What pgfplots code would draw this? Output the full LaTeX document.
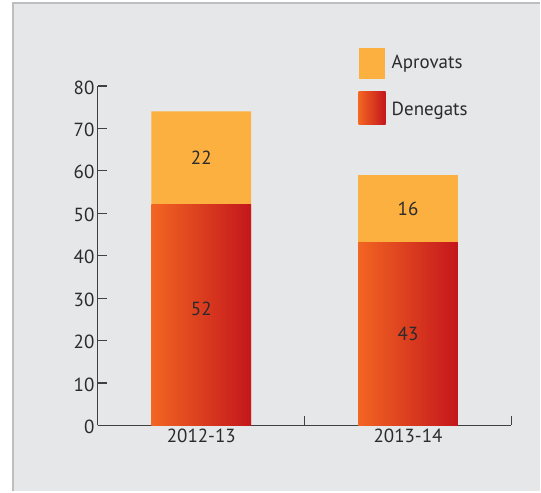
\documentclass[border=0pt]{standalone}
\usepackage{pgfplots}
\pgfplotsset{compat=1.18}
\usepackage{fontspec}
\setmainfont{PT Sans}
\definecolor{bg}{HTML}{E6E7E9}
\definecolor{frame}{HTML}{BCBEC0}
\definecolor{apro}{HTML}{FBB040}
\definecolor{denL}{HTML}{F26522}
\definecolor{denR}{HTML}{C4161C}
\definecolor{txt}{HTML}{2B2A2C}
\definecolor{axisc}{HTML}{414042}
\newcommand{\lbl}{\fontsize{19}{21}\selectfont}
\begin{document}
\begin{tikzpicture}
\path (0pt,0pt) rectangle (541pt,492pt);
\fill[bg] (13pt,0pt) rectangle (541pt,489pt);
\draw[frame, line width=1.3pt] (13pt,0pt) -- (13pt,489pt) -- (541pt,489pt);
\begin{axis}[
  at={(98pt,66pt)}, anchor=south west,
  scale only axis, width=414pt, height=340pt,
  xmin=0, xmax=2, ymin=0, ymax=80,
  axis x line=bottom, axis y line=left,
  axis line style={-, axisc, line width=1.2pt},
  xtick={0,1,2}, xticklabels={,,},
  extra x ticks={0.5,1.5},
  extra x tick labels={2012-13,2013-14},
  extra x tick style={major tick length=0pt},
  ytick={0,10,...,80},
  xtick align=inside, ytick align=inside, major tick length=9pt,
  tick style={axisc, line width=1.2pt},
  ticklabel style={font=\lbl, text=txt},
  yticklabel style={yshift=-1.5pt},
  /pgf/number format/assume math mode=true,
  clip=false,
]
\addplot[ybar, bar width=100pt, bar shift=0pt, fill=apro, draw=none]
  coordinates {(0.5,74) (1.5,59)};
\addplot[ybar, bar width=100pt, bar shift=0pt, draw=none, left color=denL, right color=denR]
  coordinates {(0.5,52)};
\addplot[ybar, bar width=100pt, bar shift=0pt, draw=none, left color=denL, right color=denR]
  coordinates {(1.5,43)};
\addplot[draw=none, mark=none, nodes near coords, point meta=explicit symbolic,
  every node near coord/.append style={anchor=center, font=\lbl, text=txt}]
  coordinates {(0.5,27.5)[52] (0.5,63)[22] (1.5,21.5)[43] (1.5,51)[16]};
\end{axis}
\fill[apro] (359pt,413pt) rectangle (385pt,444pt);
\shade[left color=denL, right color=denR] (359pt,367pt) rectangle (386pt,400pt);
\node[anchor=base west, inner sep=0pt, font=\lbl, text=txt] at (392pt,423pt) {Aprovats};
\node[anchor=base west, inner sep=0pt, font=\lbl, text=txt] at (392pt,376pt) {Denegats};
\end{tikzpicture}
\end{document}
